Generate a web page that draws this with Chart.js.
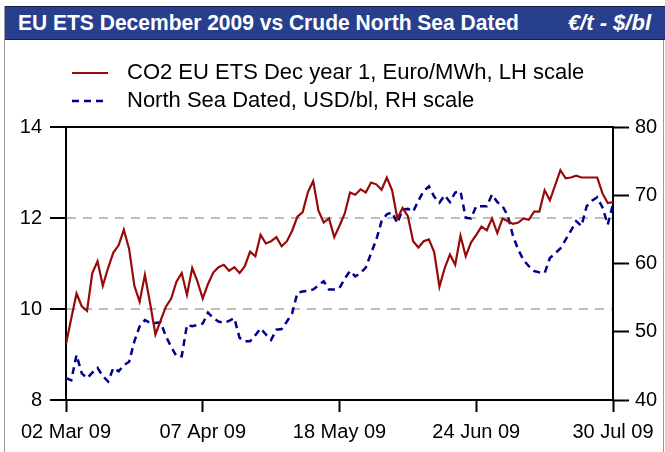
<!DOCTYPE html>
<html>
<head>
<meta charset="utf-8">
<script src="https://cdn.jsdelivr.net/npm/chart.js@4.4.1/dist/chart.umd.min.js"></script>
<style>
  body { margin: 0; width: 665px; height: 452px; overflow: hidden; background: #fff; font-family: "Liberation Sans", Arial, sans-serif; }
  #frame { position: absolute; left: 4px; top: 6px; width: 658px; height: 470px; border: 1px solid #9a9a9a; border-bottom: none; }
  #bar { position: absolute; left: 5px; top: 6px; width: 660px; height: 32px; background: #273f8d; border-top: 1px solid #14204a; border-bottom: 1px solid #14204a; color: #fff; font-weight: bold; font-size: 22px; line-height: 32px; }
  #bar .l { position: absolute; left: 13px; top: 0; transform: scaleX(0.955); transform-origin: left center; white-space: nowrap; }
  #bar .r { position: absolute; right: 14px; top: 0; font-style: italic; }
  .leg { position: absolute; left: 72px; height: 26px; font-size: 22px; line-height: 26px; color: #000; white-space: nowrap; }
  .leg svg { position: absolute; left: 0; top: 12px; }
  .leg span { position: absolute; left: 55px; top: 0; }
  #chart { position: absolute; left: 0; top: 0; }
</style>
</head>
<body>
<div id="frame"></div>
<canvas id="chart" width="665" height="452"></canvas>
<div id="bar"><span class="l">EU ETS December 2009 vs Crude North Sea Dated</span><span class="r">€/t - $/bl</span></div>
<div class="leg" style="top:59px"><svg width="40" height="4"><line x1="0" y1="2" x2="36" y2="2" stroke="#960a0a" stroke-width="2.2"/></svg><span>CO2 EU ETS Dec year 1, Euro/MWh, LH scale</span></div>
<div class="leg" style="top:87px"><svg width="40" height="4"><line x1="0" y1="2" x2="36" y2="2" stroke="#00008f" stroke-width="2.5" stroke-dasharray="7,5"/></svg><span>North Sea Dated, USD/bl, RH scale</span></div>
<script>
// x tick labels every 26 trading days
const xTickLabels = ['02 Mar 09', '07 Apr 09', '18 May 09', '24 Jun 09', '30 Jul 09'];

// CO2 EU ETS Dec year 1 (left scale)
const co2 = [9.23, 9.79, 10.34, 10.06, 9.96, 10.79, 11.05, 10.51, 10.90, 11.24,
  11.40, 11.74, 11.32, 10.51, 10.16, 10.75, 10.12, 9.44, 9.75, 10.05,
  10.23, 10.60, 10.79, 10.31, 10.90, 10.60, 10.23, 10.55, 10.80, 10.92,
  10.97, 10.84, 10.92, 10.79, 10.94, 11.26, 11.16, 11.63, 11.44, 11.49,
  11.58, 11.38, 11.49, 11.72, 12.03, 12.13, 12.57, 12.81, 12.16, 11.90,
  11.99, 11.58, 11.83, 12.10, 12.56, 12.51, 12.63, 12.56, 12.78, 12.74,
  12.62, 12.89, 12.61, 11.99, 12.22, 12.04, 11.49, 11.35, 11.49, 11.53,
  11.25, 10.49, 10.90, 11.20, 10.97, 11.61, 11.16, 11.46, 11.63, 11.81,
  11.73, 11.99, 11.67, 11.99, 11.93, 11.87, 11.90, 11.99, 11.96, 12.14,
  12.14, 12.61, 12.39, 12.72, 13.05, 12.87, 12.89, 12.93, 12.89, 12.89,
  12.89, 12.89, 12.54, 12.33, 12.35];

// North Sea Dated (right scale)
const brent = [43.2, 42.9, 46.6, 43.9, 43.2, 44.0, 44.7, 43.5, 42.7, 44.7,
  44.2, 45.1, 45.6, 48.6, 50.8, 51.7, 51.3, 51.3, 51.4, 49.3,
  47.8, 46.4, 46.4, 51.0, 50.8, 51.0, 51.2, 52.8, 52.0, 51.5,
  51.3, 51.6, 52.0, 49.1, 48.6, 48.6, 49.5, 50.5, 49.6, 48.8,
  50.3, 50.4, 51.5, 52.7, 55.7, 55.9, 56.0, 56.2, 56.8, 57.4,
  56.2, 56.2, 56.4, 57.8, 58.9, 58.1, 58.6, 59.4, 61.5, 63.5,
  66.2, 67.2, 67.5, 65.9, 67.9, 68.0, 67.6, 69.2, 70.6, 71.3,
  69.8, 68.9, 70.0, 69.0, 70.4, 70.6, 66.7, 66.6, 68.4, 68.4,
  68.4, 70.1, 69.0, 68.4, 67.0, 64.0, 62.0, 60.5, 59.6, 58.9,
  58.7, 58.6, 60.8, 61.5, 62.2, 63.5, 64.8, 66.2, 65.5, 68.4,
  69.2, 69.7, 68.2, 65.7, 68.7];

Chart.defaults.font.family = '"Liberation Sans", Arial, sans-serif';
Chart.defaults.font.size = 20;
Chart.defaults.color = '#000';

// black line along the top of the plot area
const topLine = {
  id: 'topLine',
  afterDraw(chart) {
    const { ctx, chartArea: a } = chart;
    ctx.save();
    ctx.strokeStyle = '#000';
    ctx.lineWidth = 2;
    ctx.beginPath();
    ctx.moveTo(a.left, a.top);
    ctx.lineTo(a.right, a.top);
    ctx.stroke();
    ctx.restore();
  }
};

new Chart(document.getElementById('chart'), {
  type: 'line',
  data: {
    datasets: [
      { label: 'CO2', data: co2.map((v, i) => ({ x: i, y: v })), yAxisID: 'y', borderColor: '#960a0a', borderWidth: 2.2, pointRadius: 0, tension: 0 },
      { label: 'Brent', data: brent.map((v, i) => ({ x: i, y: v })), yAxisID: 'y2', borderColor: '#00008f', borderWidth: 2.5, borderDash: [7, 5], pointRadius: 0, tension: 0 }
    ]
  },
  options: {
    responsive: false,
    animation: false,
    layout: { padding: { top: 127, left: 0, right: 0, bottom: 0 } },
    plugins: { legend: { display: false }, tooltip: { enabled: false } },
    scales: {
      x: {
        type: 'linear', min: 0, max: 104,
        afterFit: s => { s.height = 52; },
        ticks: { stepSize: 26, maxRotation: 0, autoSkip: false, padding: 8, callback: v => xTickLabels[v / 26] },
        grid: { drawOnChartArea: false, tickLength: 12, tickWidth: 2, tickColor: '#000' },
        border: { color: '#000', width: 2 }
      },
      y: {
        position: 'left', min: 8, max: 14,
        afterFit: s => { s.width = 66; },
        ticks: { stepSize: 2, padding: 8 },
        grid: {
          color: c => (c.tick && (c.tick.value === 10 || c.tick.value === 12)) ? '#bdbdbd' : 'rgba(0,0,0,0)',
          lineWidth: 2, tickLength: 16, tickWidth: 2, tickColor: '#000', tickBorderDash: []
        },
        border: { color: '#000', width: 2, dash: [9, 7] }
      },
      y2: {
        position: 'right', min: 40, max: 80,
        afterFit: s => { s.width = 52; },
        ticks: { stepSize: 10, padding: 6 },
        grid: { drawOnChartArea: false, tickLength: 16, tickWidth: 2, tickColor: '#000' },
        border: { color: '#000', width: 2 }
      }
    }
  },
  plugins: [topLine]
});
</script>
</body>
</html>
